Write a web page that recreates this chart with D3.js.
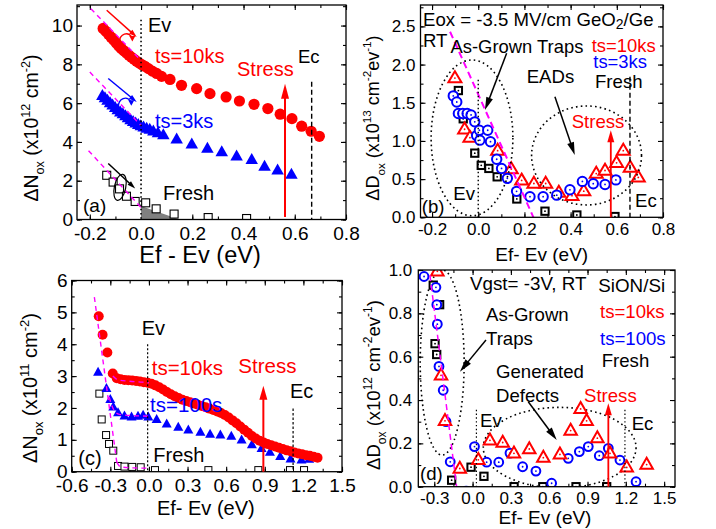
<!DOCTYPE html>
<html><head><meta charset="utf-8">
<script src="https://cdn.jsdelivr.net/npm/d3@7"></script>
<style>body{margin:0;background:#fff}svg{display:block}</style>
</head><body><svg id="c" width="716" height="529"></svg>
<script>
// ---------- DATA ----------
// Panel (a) GeO2/Ge, dNox (x1e12 cm^-2)
const aXTicks=[-0.2,0,0.2,0.4,0.6,0.8], aYTicks=[0,2,4,6,8,10];
const aRed=[[-0.148,9.85],[-0.137,9.7],[-0.127,9.55],[-0.117,9.4],[-0.107,9.25],[-0.097,9.1],[-0.087,8.95],[-0.077,8.82],[-0.067,8.7],[-0.057,8.58],[-0.047,8.47],[-0.037,8.36],[-0.027,8.26],[-0.017,8.16],[-0.007,8.07],[0.004,7.98],[0.015,7.9],[0.029,7.78],[0.044,7.65],[0.061,7.53],[0.08,7.38],[0.113,7.22],[0.158,6.92],[0.217,6.75],[0.269,6.49],[0.332,6.32],[0.384,6.11],[0.441,5.94],[0.495,5.72],[0.543,5.43],[0.589,5.2],[0.627,4.81],[0.664,4.55],[0.696,4.29]];
const aBlue=[[-0.151,6.45],[-0.141,6.33],[-0.131,6.2],[-0.121,6.07],[-0.111,5.95],[-0.101,5.83],[-0.091,5.71],[-0.081,5.6],[-0.071,5.5],[-0.061,5.4],[-0.051,5.3],[-0.041,5.2],[-0.031,5.11],[-0.021,5.03],[-0.011,4.95],[-0.001,4.88],[0.01,4.82],[0.022,4.76],[0.034,4.7],[0.048,4.62],[0.066,4.52],[0.087,4.42],[0.139,4.2],[0.198,3.95],[0.259,3.72],[0.315,3.55],[0.373,3.32],[0.432,3.15],[0.482,2.8],[0.533,2.6],[0.587,2.38]];
const aFresh=[[-0.134,2.28],[-0.109,1.93],[-0.084,1.58],[-0.057,1.2],[-0.023,0.93],[0.018,0.86],[0.059,0.55],[0.129,0.28],[0.262,0.1],[0.412,0.05]];
const aShade=[[0,0.7],[0.15,0],[0,0]];
const aFits=[[[-0.196,10.87],[0,8.2]],[[-0.2,7.6],[0,4.85]],[[-0.205,3.55],[0,0.62]]];
// Panel (b) GeO2/Ge, dDox (x1e13)
const bXTicks=[-0.2,0,0.2,0.4,0.6,0.8], bYTicks=[0,0.5,1,1.5,2,2.5];
const bRed=[[-0.101,1.84],[-0.059,1.17],[-0.036,1.06],[0.084,0.89],[0.143,0.65],[0.188,0.5],[0.241,0.46],[0.292,0.46],[0.349,0.34],[0.406,0.3],[0.457,0.36],[0.511,0.59],[0.549,0.63],[0.599,0.73],[0.628,0.89],[0.658,0.67],[0.693,0.54]];
const bBlue=[[-0.108,1.59],[-0.093,1.51],[-0.086,1.36],[-0.067,1.36],[-0.048,1.36],[-0.031,1.34],[-0.015,1.25],[-0.007,1.07],[0.005,1.14],[0.007,1.01],[0.041,1.14],[0.053,0.99],[0.08,0.76],[0.101,0.64],[0.126,0.51],[0.166,0.34],[0.224,0.27],[0.281,0.27],[0.34,0.29],[0.397,0.36],[0.451,0.47],[0.498,0.44],[0.549,0.43],[0.596,0.49]];
const bFresh=[[-0.086,1.66],[-0.065,1.29],[-0.015,0.84],[0.013,0.68],[0.046,0.64],[0.082,0.53],[0.167,0.24],[0.289,0.08],[0.427,0.03],[0.592,0.01]];
const bFit=[[-0.122,2.43],[0.239,0]];
// Panel (c) SiON/Si, dNox (x1e11)
const cXTicks=[-0.6,-0.3,0,0.3,0.6,0.9,1.2,1.5], cYTicks=[0,1,2,3,4,5,6];
const cRed=[[-0.39,4.88],[-0.36,4.3],[-0.323,3.74],[-0.281,3.08],[-0.25,2.93],[-0.22,2.9],[-0.19,2.88],[-0.16,2.87],[-0.13,2.86],[-0.1,2.85],[-0.07,2.83],[-0.04,2.81],[-0.01,2.79],[0.02,2.76],[0.05,2.71],[0.08,2.65],[0.11,2.58],[0.14,2.5],[0.17,2.43],[0.2,2.37],[0.23,2.31],[0.26,2.26],[0.29,2.22],[0.32,2.18],[0.35,2.14],[0.38,2.1],[0.41,2.06],[0.44,2.02],[0.47,1.98],[0.5,1.94],[0.53,1.89],[0.56,1.84],[0.59,1.78],[0.62,1.7],[0.65,1.61],[0.68,1.52],[0.71,1.42],[0.74,1.32],[0.77,1.22],[0.8,1.12],[0.83,1.04],[0.86,0.97],[0.89,0.92],[0.92,0.87],[0.95,0.83],[0.98,0.79],[1.01,0.75],[1.04,0.71],[1.07,0.67],[1.1,0.64],[1.13,0.6],[1.16,0.57],[1.19,0.55],[1.22,0.52],[1.25,0.5],[1.28,0.47],[1.31,0.44]];
const cBlue=[[-0.395,3.15],[-0.33,2.64],[-0.3,2.3],[-0.277,2.06],[-0.24,1.88],[-0.19,1.78],[-0.135,1.75],[-0.085,1.77],[-0.045,1.8],[-0.005,1.75],[0.06,1.67],[0.138,1.53],[0.228,1.43],[0.306,1.34],[0.4,1.27],[0.475,1.21],[0.555,1.18],[0.64,1.14],[0.72,1.03],[0.8,0.88],[0.875,0.76],[0.94,0.64],[1.02,0.51],[1.1,0.43],[1.185,0.4],[1.245,0.42]];
const cFresh=[[-0.385,2.45],[-0.367,1.64],[-0.333,1.15],[-0.31,0.87],[-0.277,0.66],[-0.24,0.18],[-0.19,0.16],[-0.13,0.15],[-0.064,0.14],[0.047,0.05],[0.462,0.05],[0.85,0.05],[1.096,0.05],[1.205,0.05]];
const cFits=[[[-0.424,5.48],[-0.25,0.3]],[[-0.28,3.0],[-0.24,2.88],[-0.15,2.84],[-0.05,2.81],[0,2.79]],[[-0.31,2.35],[-0.27,1.92],[-0.23,1.8],[-0.12,1.76],[0,1.74]],[[-0.25,0.3],[-0.22,0.15],[-0.12,0.12],[0,0.11]]];
// Panel (d) SiON/Si, dDox (x1e12)
const dXTicks=[-0.3,0,0.3,0.6,0.9,1.2,1.5], dYTicks=[0,0.2,0.4,0.6,0.8,1.0];
const dRed=[[-0.276,1.0],[-0.247,0.52],[-0.216,0.31],[-0.1,0.09],[0.045,0.13],[0.136,0.22],[0.236,0.21],[0.324,0.16],[0.444,0.18],[0.554,0.14],[0.684,0.155],[0.768,0.265],[0.846,0.365],[0.893,0.31],[0.977,0.23],[1.076,0.16],[1.207,0.095],[1.363,0.108]];
const dBlue=[[-0.38,0.97],[-0.287,0.92],[-0.28,0.84],[-0.276,0.75],[-0.263,0.555],[-0.23,0.445],[-0.208,0.3],[-0.175,0.115],[-0.05,-0.02],[0.015,0.185],[0.11,0.113],[0.205,0.113],[0.293,0.155],[0.392,0.092],[0.496,0.072],[0.619,0.016],[0.749,0.131],[0.836,0.162],[0.906,0.185],[0.992,0.143],[1.063,0.177],[1.154,0.123],[1.28,0.023]];
const dFresh=[[-0.308,0.93],[-0.258,0.84],[-0.294,0.66],[-0.281,0.61],[-0.164,0.03],[-0.012,0.09],[0.089,0.048],[0.325,0.0],[0.55,0.0],[0.81,0.0],[1.05,0.0]];
const dFit=[[-0.334,0.976],[-0.125,0]];

// ---------- DRAWING ----------
const FONT='"Liberation Sans", Arial, Helvetica, sans-serif';
const RED="#ff0000", BLUE="#0000ff", MAG="#ff00ff";
const svg=d3.select("#c");
svg.append("rect").attr("width",716).attr("height",529).attr("fill","#fff");
const f1=v=>v.toFixed(1), f0=v=>String(Math.round(v));

function panel(id,o){
  const x=d3.scaleLinear().domain(o.xd).range(o.xr);
  const y=d3.scaleLinear().domain(o.yd).range(o.yr);
  const L=o.xr[0],R=o.xr[1],B=o.yr[0],T=o.yr[1];
  svg.append("clipPath").attr("id","cl"+id).append("rect").attr("x",L).attr("y",T).attr("width",R-L).attr("height",B-T);
  const ax=svg.append("g");
  const fix=s=>{s.select(".domain").remove();s.selectAll(".tick line").attr("stroke","#000").attr("stroke-width",1.1);
    s.selectAll("text").attr("font-size",o.fs).attr("font-family",FONT).attr("fill","#000");};
  const add=(gen,tx,ty)=>ax.append("g").attr("transform",`translate(${tx},${ty})`).call(gen).call(fix);
  add(d3.axisBottom(x).tickValues(o.xm).tickSize(-3).tickFormat(""),0,B);
  add(d3.axisTop(x).tickValues(o.xm).tickSize(-3).tickFormat(""),0,T);
  add(d3.axisLeft(y).tickValues(o.ym).tickSize(-3).tickFormat(""),L,0);
  add(d3.axisRight(y).tickValues(o.ym).tickSize(-3).tickFormat(""),R,0);
  add(d3.axisBottom(x).tickValues(o.xt).tickSize(-5).tickPadding(o.px).tickFormat(o.fx),0,B);
  add(d3.axisTop(x).tickValues(o.xt).tickSize(-5).tickFormat(""),0,T);
  add(d3.axisLeft(y).tickValues(o.yt).tickSize(-5).tickPadding(o.py).tickFormat(o.fy),L,0);
  add(d3.axisRight(y).tickValues(o.yt).tickSize(-5).tickFormat(""),R,0);
  const data=svg.append("g").attr("clip-path",`url(#cl${id})`);
  svg.append("rect").attr("x",L).attr("y",T).attr("width",R-L).attr("height",B-T).attr("fill","none").attr("stroke","#000").attr("stroke-width",1.3);
  const ann=svg.append("g");
  return {x,y,data,ann,L,R,T,B};
}
function circles(g,P,d,r,fill,stroke,sw,dot){
  g.selectAll(null).data(d).enter().append("circle").attr("cx",p=>P.x(p[0])).attr("cy",p=>P.y(p[1])).attr("r",r)
   .attr("fill",fill).attr("stroke",stroke||"none").attr("stroke-width",sw||0);
  if(dot) g.selectAll(null).data(d).enter().append("circle").attr("cx",p=>P.x(p[0])).attr("cy",p=>P.y(p[1])).attr("r",0.9).attr("fill",dot);
}
function tris(g,P,d,w,h,fill,stroke,sw,dot){
  g.selectAll(null).data(d).enter().append("path").attr("d",p=>{const cx=P.x(p[0]),cy=P.y(p[1]);
    return `M${cx},${cy-h/2}L${cx+w/2},${cy+h/2}L${cx-w/2},${cy+h/2}Z`;})
   .attr("fill",fill).attr("stroke",stroke||"none").attr("stroke-width",sw||0).attr("stroke-linejoin","miter");
  if(dot) g.selectAll(null).data(d).enter().append("circle").attr("cx",p=>P.x(p[0])).attr("cy",p=>P.y(p[1])+h*0.12).attr("r",0.9).attr("fill",dot);
}
function squares(g,P,d,s,fill,stroke,sw,dot){
  g.selectAll(null).data(d).enter().append("rect").attr("x",p=>P.x(p[0])-s/2).attr("y",p=>P.y(p[1])-s/2).attr("width",s).attr("height",s)
   .attr("fill",fill).attr("stroke",stroke).attr("stroke-width",sw);
  if(dot) g.selectAll(null).data(d).enter().append("circle").attr("cx",p=>P.x(p[0])).attr("cy",p=>P.y(p[1])).attr("r",0.9).attr("fill",dot);
}
function fitLine(g,P,pts,sw,dash){
  g.append("path").attr("d",d3.line().x(p=>P.x(p[0])).y(p=>P.y(p[1])).curve(d3.curveMonotoneX)(pts))
   .attr("fill","none").attr("stroke",MAG).attr("stroke-width",sw).attr("stroke-dasharray",dash);
}
function vline(g,P,xv,y0,y1,dash,sw){
  g.append("line").attr("x1",P.x(xv)).attr("x2",P.x(xv)).attr("y1",P.y(y0)).attr("y2",P.y(y1))
   .attr("stroke","#000").attr("stroke-width",sw||1.3).attr("stroke-dasharray",dash);
}
function arrow(g,x1,y1,x2,y2,col,sw,hl,hw){
  const dx=x2-x1,dy=y2-y1,Ln=Math.hypot(dx,dy),ux=dx/Ln,uy=dy/Ln,bx=x2-ux*hl,by=y2-uy*hl;
  g.append("line").attr("x1",x1).attr("y1",y1).attr("x2",bx+ux).attr("y2",by+uy).attr("stroke",col).attr("stroke-width",sw);
  g.append("path").attr("d",`M${x2},${y2}L${bx-uy*hw/2},${by+ux*hw/2}L${bx+uy*hw/2},${by-ux*hw/2}Z`).attr("fill",col);
}
function darrow(g,P,a,b,col,sw,hl,hw){arrow(g,P.x(a[0]),P.y(a[1]),P.x(b[0]),P.y(b[1]),col,sw,hl,hw);}
function ell(g,P,cx,cy,rx,ry,rot){
  const X=P.x(cx),Y=P.y(cy);
  g.append("ellipse").attr("cx",X).attr("cy",Y).attr("rx",Math.abs(P.x(cx+rx)-X)).attr("ry",Math.abs(P.y(cy+ry)-Y))
   .attr("transform",rot?`rotate(${rot},${X},${Y})`:null)
   .attr("fill","none").attr("stroke","#000").attr("stroke-width",1.6).attr("stroke-dasharray","1.6,3.2");
}
function txt(x,y,s,fs,col){return svg.append("text").attr("x",x).attr("y",y).attr("font-size",fs).attr("fill",col||"#000").attr("font-family",FONT).text(s);}
function rich(x,y,parts,fs,rot){
  const t=svg.append("text").attr("transform",`translate(${x},${y}) rotate(${rot||0})`).attr("text-anchor","middle")
    .attr("font-size",fs).attr("font-family",FONT).attr("fill","#000");
  let cur=0;
  parts.forEach(p=>{const tg=p.s==="sub"?fs*0.32:p.s==="sup"?-fs*0.42:0;
    t.append("tspan").attr("dy",tg-cur).attr("font-size",p.s?fs*0.65:fs).text(p.t);cur=tg;});
}

// ===== Panel (a) =====
const A=panel("a",{xd:[-0.25,0.8],xr:[77,346],yd:[0,11.06],yr:[219.5,5],xt:aXTicks,yt:aYTicks,
  xm:d3.range(-0.2,0.81,0.1),ym:d3.range(0,11.01,1),fx:f1,fy:f0,fs:19,px:7,py:4});
A.data.append("path").attr("d",d3.line().x(p=>A.x(p[0])).y(p=>A.y(p[1]))(aShade)+"Z").attr("fill","#808080");
circles(A.data,A,aRed,5.6,RED);
tris(A.data,A,aBlue,12.5,11,BLUE);
squares(A.data,A,aFresh,8,"#fff","#000",1.1);
aFits.forEach(f=>fitLine(A.data,A,f,1.4,"5,4"));
vline(A.ann,A,0,10.3,0,"1.6,2.6",1.6);
vline(A.ann,A,0.666,7.1,0,"5,3",1.4);
darrow(A.ann,A,[0.562,0.13],[0.562,7.0],RED,2,15,8);
// small rotation arrows
darrow(A.ann,A,[-0.134,10.79],[-0.017,9.41],RED,1.5,8,5);
darrow(A.ann,A,[-0.128,7.27],[-0.017,6.06],BLUE,1.5,8,5);
darrow(A.ann,A,[-0.128,2.89],[-0.023,1.6],"#000",1.5,8,5);
[[[-0.085,9.16],[-0.036,9.39],RED],[[-0.089,5.81],[-0.04,6.07],BLUE]].forEach(([s,e,c])=>{
  A.ann.append("path").attr("d",`M${A.x(s[0])},${A.y(s[1])}A7 9 0 0 1 ${A.x(e[0])},${A.y(e[1])}`).attr("fill","none").attr("stroke",c).attr("stroke-width",1.4);
  const ex=A.x(e[0]),ey=A.y(e[1]);
  A.ann.append("path").attr("d",`M${ex+0.5},${ey+4}L${ex-2.5},${ey-1.5}L${ex+3.5},${ey-1.5}Z`).attr("fill",c);
});
{const X=A.x(-0.082),Y=A.y(1.66);
 A.ann.append("ellipse").attr("cx",X).attr("cy",Y).attr("rx",5.7).attr("ry",13.3).attr("transform",`rotate(12,${X},${Y})`).attr("fill","none").attr("stroke","#000").attr("stroke-width",1.2);}
txt(148,32,"Ev",20);
txt(155,63,"ts=10ks",20,RED);
txt(237,76,"Stress",20,RED);
txt(298,62.7,"Ec",18.5);
txt(155,128,"ts=3ks",20,BLUE);
txt(163,200,"Fresh",20);
txt(83,211.7,"(a)",19);
rich(38,128,[{t:"ΔN"},{t:"ox",s:"sub"},{t:" (x10"},{t:"12",s:"sup"},{t:" cm"},{t:"-2",s:"sup"},{t:")"}],19.5,-90);
txt(200,263,"Ef - Ev (eV)",23.5).attr("text-anchor","middle");

// ===== Panel (b) =====
const Bp=panel("b",{xd:[-0.25,0.8],xr:[420.5,663],yd:[0,2.78],yr:[217.3,5],xt:bXTicks,yt:bYTicks,
  xm:d3.range(-0.2,0.81,0.1),ym:d3.range(0,2.76,0.25),fx:f1,fy:f1,fs:17,px:6,py:5});
ell(Bp.ann,Bp,-0.027,1.04,0.177,1.02);
ell(Bp.ann,Bp,0.469,0.81,0.238,0.648);
squares(Bp.data,Bp,bFresh,7.3,"#fff","#000",2,"#000");
tris(Bp.data,Bp,bRed,13,11,"#fff",RED,2,RED);
circles(Bp.data,Bp,bBlue,4.7,"#fff",BLUE,2,BLUE);
fitLine(Bp.data,Bp,bFit,2,"7,4");
vline(Bp.ann,Bp,0,1.8,0,"1.4,2.6",1.4);
vline(Bp.ann,Bp,0.657,1.84,0,"5,3",1.4);
darrow(Bp.ann,Bp,[0.574,0],[0.574,1.14],RED,1.8,12,7);
darrow(Bp.ann,Bp,[0.123,2.147],[0.029,1.404],"#000",1.5,13,7);
darrow(Bp.ann,Bp,[0.332,1.58],[0.418,0.815],"#000",1.5,13,7);
{const t=txt(423,26,"Eox = -3.5 MV/cm GeO",18.6);t.append("tspan").attr("dy",3).attr("font-size",14).text("2");t.append("tspan").attr("dy",-3).text("/Ge");}
txt(423,46.7,"RT",18.6);
txt(450.5,53.3,"As-Grown Traps",18.4);
txt(591.7,51.7,"ts=10ks",18.4,RED);
txt(593.3,68.3,"ts=3ks",18.4,BLUE);
txt(595,88.3,"Fresh",18.6);
txt(526.7,83.3,"EADs",18.6);
txt(571.7,128.3,"Stress",18.6,RED);
txt(453.3,200,"Ev",18.6);
txt(635,206.7,"Ec",18.6);
txt(421.7,213.3,"(b)",18.6);
rich(379,118,[{t:"ΔD"},{t:"ox",s:"sub"},{t:" (x10"},{t:"13",s:"sup"},{t:" cm"},{t:"-2",s:"sup"},{t:"ev"},{t:"-1",s:"sup"},{t:")"}],18,-90);
txt(541.7,261,"Ef- Ev (eV)",19).attr("text-anchor","middle");

// ===== Panel (c) =====
const C=panel("c",{xd:[-0.6,1.5],xr:[71.7,342],yd:[0,6],yr:[471.7,280.5],xt:cXTicks,yt:cYTicks,
  xm:d3.range(-0.6,1.51,0.15),ym:d3.range(0,6.01,0.5),fx:f1,fy:f0,fs:19,px:7,py:4});
squares(C.data,C,cFresh,7,"#fff","#000",1);
tris(C.data,C,cBlue,10,9,BLUE);
circles(C.data,C,cRed,5,RED);
cFits.forEach(f=>fitLine(C.data,C,f,1.4,"5,4"));
vline(C.ann,C,-0.01,4.0,0,"2,2",1.2);
vline(C.ann,C,1.12,1.98,0,"2.5,2",1.2);
darrow(C.ann,C,[0.889,0],[0.889,2.7],RED,2,14,8);
txt(141.7,335,"Ev",20);
txt(151.7,375,"ts=10ks",20.5,RED);
txt(238.3,373.3,"Stress",20.5,RED);
txt(150,411.7,"ts=100s",20.5,BLUE);
txt(290,398.3,"Ec",20);
txt(153.3,461.7,"Fresh",20);
txt(78.3,465,"(c)",20);
rich(37,388,[{t:"ΔN"},{t:"ox",s:"sub"},{t:" (x10"},{t:"11",s:"sup"},{t:" cm"},{t:"-2",s:"sup"},{t:")"}],20,-90);
txt(205.8,515,"Ef- Ev (eV)",20).attr("text-anchor","middle");

// ===== Panel (d) =====
const D=panel("d",{xd:[-0.425,1.585],xr:[418.3,675],yd:[0,1],yr:[486.7,270],xt:dXTicks,yt:dYTicks,
  xm:d3.range(-0.3,1.51,0.15),ym:d3.range(0,1.01,0.1),fx:f1,fy:f1,fs:17,px:5,py:6});
ell(D.data,D,-0.238,0.573,0.172,0.427);
ell(D.data,D,0.682,0.18,0.598,0.186);
squares(D.data,D,dFresh,7.3,"#fff","#000",2,"#000");
circles(D.data,D,dBlue,4.4,"#fff",BLUE,2,BLUE);
tris(D.data,D,dRed,12.5,11,"#fff",RED,2,RED);
fitLine(D.data,D,dFit,1.5,"6,4");
vline(D.ann,D,0.03,0.355,0,"1.4,2.4",1.2);
vline(D.ann,D,1.193,0.355,0,"1.4,2.4",1.2);
darrow(D.ann,D,[1.063,0],[1.063,0.385],RED,1.8,12,7);
darrow(D.ann,D,[0.105,0.677],[-0.099,0.531],"#000",1.5,13,7);
darrow(D.ann,D,[0.436,0.392],[0.659,0.215],"#000",1.5,13,7);
txt(470,290,"Vgst= -3V, RT",18.8);
txt(598.3,291.7,"SiON/Si",18.8);
txt(486,321,"As-Grown",18.6);
txt(486,345,"Traps",18.6);
txt(600,318.3,"ts=10ks",18.6,RED);
txt(600,345,"ts=100s",18.6,BLUE);
txt(601.7,366.7,"Fresh",18.6);
txt(496,378.3,"Generated",18.6);
txt(496,402.3,"Defects",18.6);
txt(584,401.7,"Stress",18.6,RED);
txt(480,426.7,"Ev",18.6);
txt(631.7,430,"Ec",18.6);
txt(420,480,"(d)",18.6);
rich(380,385,[{t:"ΔD"},{t:"ox",s:"sub"},{t:" (x10"},{t:"12",s:"sup"},{t:" cm"},{t:"-2",s:"sup"},{t:"ev"},{t:"-1",s:"sup"},{t:")"}],18.5,-90);
txt(545,524,"Ef- Ev (eV)",19).attr("text-anchor","middle");
</script></body></html>
